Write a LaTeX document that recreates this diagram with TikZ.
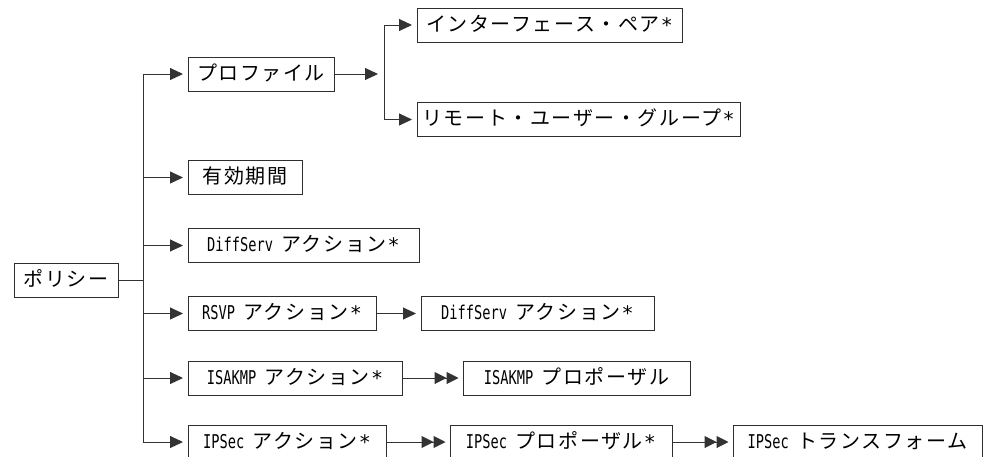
\documentclass[tikz,border=0pt]{standalone}
\usepackage{fontspec}
\usepackage{graphicx}
\setmainfont{Noto Sans CJK JP}
\newfontfamily\jpf[LetterSpace=8]{Noto Sans CJK JP}
\newfontfamily\latf[FakeStretch=0.72]{DejaVu Sans Mono}
\newfontfamily\astf{DejaVu Sans Mono}
\usetikzlibrary{arrows.meta}
\newcommand{\latn}[1]{{\latf\fontsize{19}{22}\selectfont #1}}
\newcommand{\astx}{\hspace{1pt}\raisebox{-1pt}[0pt][0pt]{\astf\fontsize{20}{22}\selectfont *}}
\definecolor{boxc}{HTML}{2E2E2E}
\definecolor{linec}{HTML}{333333}
\tikzset{
  box/.style={draw=boxc, line width=1pt, minimum height=34pt, inner sep=0pt,
    text height=16pt, text depth=4pt,
    font=\jpf\fontsize{20}{24}\selectfont, text=black},
  ln/.style={draw=linec, line width=1pt},
  arr/.style={ln, -{Triangle[length=13pt,width=12pt]}, shorten >=4.5pt},
  darr/.style={ln, -{Triangle[length=12pt,width=12pt,sep=0pt]Triangle[length=12pt,width=12pt]}, shorten >=4pt}
}
\begin{document}
\begin{tikzpicture}[x=1pt,y=-1pt]
\fill[white] (0,0) rectangle (986,456);
\useasboundingbox (0,0) rectangle (986,456);
% nodes
\node[box, minimum width=104pt] (pol)  at (66,280)    {ポリシー};
\node[box, minimum width=146pt] (prof) at (261,74)    {プロファイル};
\node[box, minimum width=265pt] (ifp)  at (549.5,25)  {インターフェース・ペア\astx};
\node[box, minimum width=323pt] (rug)  at (578.5,119.5) {リモート・ユーザー・グループ\astx};
\node[box, minimum width=114pt] (yuko) at (245,177.5) {有効期間};
\node[box, minimum width=231pt] (ds1)  at (303.5,245.5) {\latn{DiffServ }アクション\astx};
\node[box, minimum width=188pt] (rsvp) at (282,313.5) {\latn{RSVP }アクション\astx};
\node[box, minimum width=233pt] (ds2)  at (537.5,313.5) {\latn{DiffServ }アクション\astx};
\node[box, minimum width=214pt] (isa)  at (295,378)   {\latn{ISAKMP }アクション\astx};
\node[box, minimum width=227pt] (isap) at (576.5,378) {\latn{ISAKMP }プロポーザル};
\node[box, minimum width=198pt] (ips)  at (287,442)   {\latn{IPSec }アクション\astx};
\node[box, minimum width=222pt] (ipsp) at (561,442)   {\latn{IPSec }プロポーザル\astx};
\node[box, minimum width=249pt] (ipst) at (857.5,442) {\latn{IPSec }トランスフォーム};
% bus coordinates
\coordinate (bt) at (143,74);
\coordinate (pb) at (384,74);
% main bus
\draw[ln] (pol.east) -- (pol.east -| bt);
\draw[ln] (prof.west -| bt) -- (ips.west -| bt);
\draw[arr] (prof.west -| bt) -- (prof.west);
\draw[arr] (yuko.west -| bt) -- (yuko.west);
\draw[arr] (ds1.west -| bt) -- (ds1.west);
\draw[arr] (rsvp.west -| bt) -- (rsvp.west);
\draw[arr] (isa.west -| bt) -- (isa.west);
\draw[arr] (ips.west -| bt) -- (ips.west);
% profile bus
\draw[arr, shorten >=6pt] (prof.east) -- (pb);
\draw[ln] (ifp.west -| pb) -- (rug.west -| pb);
\draw[arr] (ifp.west -| pb) -- (ifp.west);
\draw[arr] (rug.west -| pb) -- (rug.west);
% chains
\draw[arr] (rsvp.east) -- (ds2.west);
\draw[darr] (isa.east) -- (isap.west);
\draw[darr] (ips.east) -- (ipsp.west);
\draw[darr] (ipsp.east) -- (ipst.west);
\end{tikzpicture}
\end{document}
